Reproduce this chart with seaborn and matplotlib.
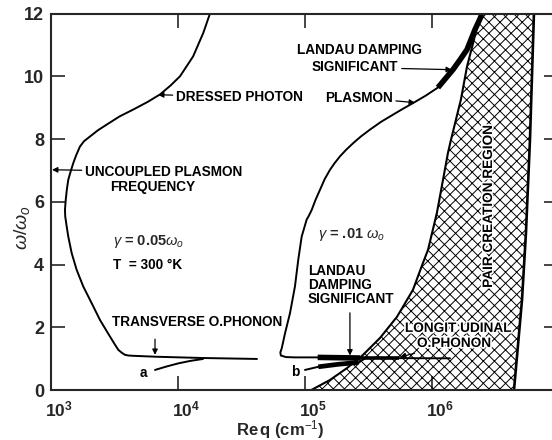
import numpy as np
import matplotlib
matplotlib.use("Agg")
import matplotlib.pyplot as plt
import matplotlib.patheffects as pe
import seaborn as sns

sns.set_style("ticks")
plt.rcParams["font.family"] = ["Liberation Sans", "DejaVu Sans"]
plt.rcParams["mathtext.fontset"] = "custom"
plt.rcParams["mathtext.rm"] = "Liberation Sans"
plt.rcParams["mathtext.it"] = "Liberation Sans:italic"
plt.rcParams["mathtext.bf"] = "Liberation Sans:bold"
plt.rcParams["hatch.linewidth"] = 0.7

# ---- dispersion curves: log10(Re q / cm^-1) and omega/omega_0 ----
# curve a (gamma = 0.05 w0): dressed photon branch down to the transverse phonon
a_upper_logq = [4.252, 4.199, 4.120, 4.070, 4.016, 3.940, 3.858, 3.760, 3.648, 3.540,
                3.439, 3.370, 3.307, 3.260, 3.228, 3.200, 3.176, 3.155, 3.136, 3.125,
                3.116, 3.110, 3.112, 3.124, 3.136, 3.163, 3.202, 3.254, 3.320, 3.386,
                3.465, 3.500, 3.530, 3.560, 3.583, 3.610, 3.648, 3.832, 4.197, 4.622]
a_upper_w = [12.0, 11.38, 10.64, 10.33, 10.00, 9.70, 9.42, 9.18, 8.94, 8.72,
             8.46, 8.28, 8.08, 7.93, 7.76, 7.50, 7.24, 6.97, 6.70, 6.40,
             6.06, 5.75, 5.53, 5.20, 4.89, 4.36, 3.83, 3.30, 2.77, 2.23,
             1.70, 1.47, 1.28, 1.18, 1.12, 1.10, 1.09, 1.06, 1.02, 0.99]
a_lower_logq = [3.819, 3.910, 4.003, 4.100, 4.197]
a_lower_w = [0.64, 0.75, 0.85, 0.93, 0.99]

# curve b (gamma = 0.01 w0): plasmon branch down to the longitudinal phonon
b_upper_logq = [6.394, 6.339, 6.276, 6.220, 6.165, 6.105, 6.047, 5.950, 5.853, 5.770,
                5.695, 5.600, 5.512, 5.440, 5.380, 5.325, 5.276, 5.235, 5.197, 5.155,
                5.118, 5.082, 5.053, 5.030, 5.013, 4.974, 4.947, 4.921, 4.882, 4.843,
                4.817, 4.806, 4.810, 4.850, 4.920, 5.092, 5.433, 6.142]
b_upper_w = [11.97, 11.49, 10.85, 10.52, 10.21, 9.92, 9.64, 9.38, 9.15, 8.96,
             8.78, 8.55, 8.30, 8.08, 7.87, 7.66, 7.45, 7.24, 7.02, 6.72,
             6.38, 6.05, 5.74, 5.55, 5.43, 4.89, 4.15, 3.30, 2.45, 1.81,
             1.33, 1.20, 1.10, 1.05, 1.04, 1.04, 1.02, 1.01]
b_lower_logq = [5.000, 5.105, 5.262, 5.420, 5.472]
b_lower_w = [0.64, 0.74, 0.82, 0.88, 1.00]

# stretches of curve b where Landau damping is significant
landau_top_logq = [6.047, 6.105, 6.165, 6.220, 6.276, 6.339, 6.394]
landau_top_w = [9.64, 9.92, 10.21, 10.52, 10.85, 11.49, 11.97]
landau_flat_logq = [5.100, 5.433]
landau_flat_w = [1.04, 1.02]
landau_flat2_logq = [5.433, 5.740]
landau_flat2_w = [1.02, 1.02]
landau_low_logq = [5.105, 5.262, 5.420]
landau_low_w = [0.74, 0.82, 0.88]

# pair creation region boundaries
pair_left_logq = [5.050, 5.197, 5.331, 5.457, 5.591, 5.724, 5.850, 5.929, 5.969, 6.039,
                  6.087, 6.126, 6.150, 6.228, 6.276, 6.331, 6.380]
pair_left_w = [0.0, 0.32, 0.70, 1.12, 1.66, 2.33, 3.19, 4.05, 4.47, 5.65,
               6.70, 7.56, 7.98, 9.26, 10.31, 11.17, 12.0]
pair_right_logq = [6.646, 6.709, 6.740, 6.772, 6.803]
pair_right_w = [0.0, 2.87, 5.0, 8.0, 12.0]

x_ticks = [1e3, 1e4, 1e5, 1e6]
x_ticklabels = [r"$\mathbf{10^{3}}$", r"$\mathbf{10^{4}}$", r"$\mathbf{10^{5}}$", r"$\mathbf{10^{6}}$"]
y_ticks = [0, 2, 4, 6, 8, 10, 12]


def q(logq):
    return 10 ** np.asarray(logq)


fig = plt.figure(figsize=(5.52, 4.40), dpi=100)
ax = fig.add_axes([0.0924, 0.1136, 1.0103 - 0.0924, 0.9693 - 0.1136])
ax.set_xscale("log")

# hatched pair creation region
poly_x = np.concatenate([q(pair_left_logq), q(pair_right_logq)[::-1]])
poly_y = np.concatenate([pair_left_w, pair_right_w[::-1]])
ax.fill(poly_x, poly_y, facecolor="none", edgecolor="black", hatch="xxx", linewidth=0)
sns.lineplot(x=q(pair_left_logq), y=pair_left_w, sort=False, estimator=None,
             color="black", lw=1.5, ax=ax)
sns.lineplot(x=q(pair_right_logq), y=pair_right_w, sort=False, estimator=None,
             color="black", lw=1.9, ax=ax)

# dispersion curves
for xs, ys in [(a_upper_logq, a_upper_w), (a_lower_logq, a_lower_w),
               (b_upper_logq, b_upper_w), (b_lower_logq, b_lower_w)]:
    sns.lineplot(x=q(xs), y=ys, sort=False, estimator=None, color="black", lw=1.4, ax=ax)

for xs, ys, w in [(landau_top_logq, landau_top_w, 4.0), (landau_flat_logq, landau_flat_w, 4.0),
                  (landau_flat2_logq, landau_flat2_w, 2.6), (landau_low_logq, landau_low_w, 3.4)]:
    sns.lineplot(x=q(xs), y=ys, sort=False, estimator=None, color="black", lw=w,
                 solid_capstyle="butt", ax=ax)

ax.set_xlim(1e3, 10 ** 6.99)
ax.set_ylim(0, 12)
ax.set_xticks(x_ticks)
ax.set_xticklabels([])
ax.set_yticks(y_ticks)
ax.set_yticklabels([str(v) for v in y_ticks], fontsize=13, fontweight="bold")
ax.minorticks_off()
ax.tick_params(axis="both", which="major", direction="in", length=10, width=1.2,
               top=True, right=True, labelright=False, labeltop=False)
ax.tick_params(axis="y", pad=5)
for side in ["left", "bottom", "top"]:
    ax.spines[side].set_linewidth(1.5)
ax.spines["right"].set_visible(False)

# decade labels: the "10" sits over its tick, the exponent hangs to the right
for tick, label in zip(x_ticks, x_ticklabels):
    ax.annotate(label, xy=(tick, 0), xycoords=("data", "axes fraction"),
                xytext=(-6, -9), textcoords="offset pixels", ha="left", va="top",
                fontsize=12.5)

fig.text(0.040, 0.482, r"$\omega/\omega_{o}$", rotation=90, ha="center", va="center",
         fontsize=14)
fig.text(0.507, 0.023, r"Re$\,$q (cm$^{-1}$)", ha="center", va="center", fontsize=12,
         fontweight="bold")

arrow = dict(arrowstyle="-|>", color="black", lw=0.9, mutation_scale=8,
             shrinkA=0, shrinkB=0)
tk = dict(fontsize=9.8, fontweight="bold", color="black")
halo = [pe.withStroke(linewidth=2.5, foreground="white")]

ax.annotate("DRESSED PHOTON", xy=(10 ** 3.843, 9.41), xytext=(10 ** 3.984, 9.35),
            ha="left", va="center", arrowprops=arrow, **tk)
ax.annotate("UNCOUPLED PLASMON", xy=(10 ** 3.008, 7.02), xytext=(10 ** 3.268, 6.96),
            ha="left", va="center", arrowprops=arrow, **tk)
ax.text(10 ** 3.465, 6.48, "FREQUENCY", ha="left", va="center", **tk)
ax.text(10 ** 3.488, 4.72, r"$\gamma$ = 0.05$\omega_o$", ha="left", va="center",
        fontsize=10.5, fontweight="bold")
ax.text(10 ** 3.488, 3.99, "T  = 300 °K", ha="left", va="center", **tk)
ax.text(10 ** 3.480, 2.17, "TRANSVERSE O.PHONON", ha="left", va="center", **tk)
ax.annotate("", xy=(10 ** 3.819, 1.12), xytext=(10 ** 3.819, 1.62), arrowprops=arrow)
ax.text(10 ** 3.724, 0.54, "a", ha="center", va="center", **tk)
ax.text(10 ** 4.921, 0.57, "b", ha="center", va="center", **tk)
ax.text(10 ** 5.102, 4.95, r"$\gamma$ = .01 $\omega_o$", ha="left", va="center",
        fontsize=10.5, fontweight="bold")
ax.text(10 ** 5.024, 3.35, "LANDAU\nDAMPING\nSIGNIFICANT", ha="left", va="center",
        linespacing=1.0, **tk)
ax.annotate("", xy=(10 ** 5.354, 1.10), xytext=(10 ** 5.354, 2.46), arrowprops=arrow)
ax.text(10 ** 5.787, 1.98, "LONGIT UDINAL", ha="left", va="center",
        path_effects=halo, **tk)
ax.annotate("O.PHONON", xy=(10 ** 5.748, 1.05), xytext=(10 ** 5.882, 1.50),
            ha="left", va="center", arrowprops=arrow, path_effects=halo, **tk)
ax.text(10 ** 4.937, 10.85, "LANDAU DAMPING", ha="left", va="center", **tk)
ax.annotate("SIGNIFICANT", xy=(10 ** 6.157, 10.21), xytext=(10 ** 5.055, 10.28),
            ha="left", va="center", arrowprops=arrow, **tk)
ax.annotate("PLASMON", xy=(10 ** 5.866, 9.16), xytext=(10 ** 5.157, 9.32),
            ha="left", va="center", arrowprops=arrow, **tk)
ax.text(10 ** 6.441, 5.84, "PAIR CREATION REGION", rotation=90, ha="center", va="center",
        path_effects=halo, **tk)

fig.savefig("out.png", dpi=100)
